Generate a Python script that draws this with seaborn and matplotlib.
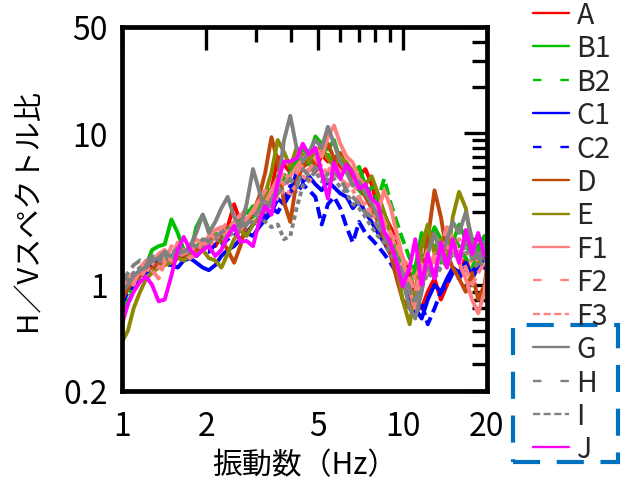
import matplotlib
matplotlib.use("Agg")
import numpy as np
import pandas as pd
import matplotlib.pyplot as plt
import seaborn as sns
from matplotlib.lines import Line2D
from matplotlib.patches import Rectangle
from matplotlib.ticker import FixedLocator, FixedFormatter, NullFormatter

# ---------------- data ----------------
freq = [1.00, 1.05, 1.10, 1.16, 1.22, 1.28, 1.35, 1.42, 1.50, 1.58,
        1.66, 1.75, 1.84, 1.94, 2.04, 2.15, 2.26, 2.38, 2.51, 2.64,
        2.78, 2.93, 3.08, 3.24, 3.41, 3.59, 3.78, 3.98, 4.19, 4.41,
        4.64, 4.89, 5.15, 5.42, 5.70, 6.00, 6.32, 6.65, 7.00, 7.37,
        7.76, 8.17, 8.60, 9.05, 9.53, 10.0, 10.6, 11.1, 11.7, 12.3,
        13.0, 13.7, 14.4, 15.1, 15.9, 16.8, 17.7, 18.6, 19.6, 20.0]

A = [0.80, 0.95, 1.10, 1.20, 1.25, 1.35, 1.30, 1.45, 1.50, 1.55, 1.50, 1.60, 1.75, 1.70, 1.85, 1.80, 2.10, 2.40, 3.40, 2.60,
     2.50, 2.90, 3.20, 3.10, 4.20, 7.00, 6.20, 5.50, 6.80, 6.00, 6.40, 5.60, 7.20, 6.50, 6.80, 5.80, 5.60, 4.80, 5.20, 5.80,
     4.60, 3.20, 2.90, 2.40, 2.00, 1.50, 1.20, 0.85, 0.70, 0.90, 1.10, 0.80, 1.00, 1.30, 1.20, 1.50, 1.10, 1.40, 1.70, 1.60]
B1 = [0.60, 0.75, 0.95, 1.15, 1.35, 1.70, 1.80, 1.85, 2.70, 2.20, 1.70, 1.60, 2.40, 2.90, 2.30, 2.10, 2.00, 2.20, 2.50, 2.60,
      3.10, 2.80, 3.50, 3.30, 4.00, 5.20, 4.60, 5.50, 6.50, 8.00, 7.00, 9.50, 8.50, 7.80, 9.00, 6.50, 6.20, 5.40, 6.00, 4.50,
      3.60, 2.70, 3.00, 2.20, 1.60, 1.40, 1.00, 1.30, 2.20, 1.80, 2.40, 2.00, 1.60, 1.90, 2.50, 2.00, 1.50, 1.80, 2.10, 1.90]
B2 = [0.70, 0.85, 1.00, 1.20, 1.30, 1.40, 1.55, 1.45, 1.60, 1.70, 1.55, 1.80, 1.95, 1.75, 2.00, 2.20, 1.90, 2.30, 2.60, 2.40,
      2.90, 3.30, 3.00, 3.80, 4.50, 4.00, 5.20, 6.00, 5.40, 7.00, 6.20, 7.50, 6.80, 7.20, 6.00, 5.50, 5.80, 4.60, 4.20, 3.80,
      4.40, 3.60, 5.00, 3.50, 2.60, 2.00, 1.50, 1.20, 1.60, 2.30, 1.90, 1.40, 1.70, 2.10, 1.80, 1.50, 1.30, 1.60, 1.90, 1.70]
C1 = [0.85, 0.95, 1.10, 1.25, 1.20, 1.35, 1.50, 1.40, 1.35, 1.30, 1.45, 1.50, 1.40, 1.30, 1.25, 1.35, 1.55, 1.70, 1.80, 2.00,
      2.20, 2.10, 2.40, 2.70, 3.00, 3.70, 3.40, 4.00, 5.50, 4.80, 5.20, 4.60, 4.20, 4.80, 4.40, 4.00, 3.80, 3.20, 3.60, 3.00,
      2.60, 2.20, 1.90, 1.60, 1.30, 1.10, 0.90, 0.70, 0.60, 0.80, 1.00, 0.90, 1.10, 1.30, 1.20, 1.40, 1.10, 1.30, 1.50, 1.40]
C2 = [0.75, 0.90, 1.00, 1.10, 1.25, 1.20, 1.35, 1.30, 1.40, 1.55, 1.45, 1.60, 1.55, 1.70, 1.65, 1.85, 1.80, 2.00, 2.10, 2.30,
      2.20, 2.50, 2.70, 2.90, 3.20, 3.00, 3.60, 4.50, 4.00, 4.60, 4.20, 3.80, 2.50, 3.40, 3.80, 3.20, 2.40, 1.90, 2.60, 2.20,
      2.00, 1.80, 1.60, 1.40, 1.20, 1.00, 0.80, 0.65, 0.75, 0.55, 0.70, 0.90, 1.00, 1.20, 1.10, 1.30, 1.20, 1.40, 1.30, 1.25]
D = [0.80, 0.95, 1.05, 1.15, 1.25, 1.30, 1.40, 1.35, 1.50, 1.60, 1.55, 1.70, 1.65, 1.80, 1.90, 2.10, 2.00, 1.70, 1.40, 1.80,
     2.60, 3.00, 3.80, 5.50, 9.40, 6.50, 3.50, 2.60, 4.80, 6.00, 7.00, 6.20, 7.50, 8.50, 6.80, 7.40, 6.00, 5.00, 4.60, 3.80,
     3.20, 2.60, 2.00, 1.60, 1.10, 0.80, 0.70, 0.90, 1.20, 2.00, 4.20, 2.80, 1.60, 1.30, 1.10, 0.90, 1.20, 0.80, 1.00, 1.30]
E = [0.42, 0.50, 0.70, 0.90, 1.10, 1.20, 1.30, 1.35, 1.40, 1.50, 1.45, 1.55, 1.60, 1.70, 1.50, 1.45, 1.30, 1.60, 2.00, 2.30,
     2.10, 2.50, 2.80, 4.00, 5.50, 9.00, 7.50, 6.00, 8.00, 7.20, 6.50, 7.60, 8.20, 6.80, 6.00, 7.00, 6.40, 5.60, 5.00, 4.60,
     5.20, 4.00, 3.00, 2.20, 1.40, 0.80, 0.55, 0.90, 1.80, 2.50, 1.60, 2.00, 1.40, 2.80, 4.10, 3.20, 1.80, 1.40, 1.60, 1.50]
F1 = [1.05, 1.10, 1.00, 1.30, 1.45, 1.40, 1.60, 1.70, 1.50, 1.90, 1.60, 1.80, 2.00, 1.85, 2.10, 2.30, 2.40, 2.20, 2.60, 2.90,
      2.70, 3.10, 3.60, 3.40, 4.20, 5.00, 4.60, 5.20, 6.00, 6.80, 7.20, 8.00, 7.00, 9.50, 11.2, 8.50, 7.00, 6.40, 5.00, 4.50,
      3.60, 3.00, 4.20, 3.30, 2.20, 1.50, 0.90, 0.70, 1.00, 1.40, 1.20, 1.60, 1.30, 1.80, 1.40, 1.10, 0.80, 0.65, 0.90, 1.20]
F2 = [0.90, 1.05, 1.20, 1.10, 1.30, 1.25, 1.10, 1.40, 1.80, 1.60, 1.70, 1.50, 1.60, 1.90, 2.20, 2.00, 2.30, 2.60, 2.40, 2.80,
      3.20, 3.00, 3.60, 4.20, 3.80, 4.60, 5.60, 4.80, 5.40, 6.20, 5.60, 6.80, 6.00, 5.40, 6.20, 5.60, 4.40, 5.00, 3.80, 3.20,
      2.80, 3.40, 2.60, 2.20, 1.90, 1.40, 1.10, 0.90, 1.30, 1.70, 1.40, 1.80, 2.40, 2.00, 1.60, 1.30, 1.00, 1.20, 1.40, 1.30]
F3 = [1.00, 1.15, 1.05, 1.25, 1.20, 1.40, 1.30, 1.50, 1.45, 1.65, 1.55, 1.75, 1.70, 1.90, 1.80, 2.00, 2.20, 2.10, 2.40, 2.30,
      2.70, 2.60, 3.00, 3.40, 3.20, 3.80, 4.20, 4.00, 4.60, 5.20, 4.80, 5.60, 5.20, 6.00, 5.40, 5.00, 4.60, 4.20, 3.60, 3.40,
      3.00, 2.60, 2.40, 2.00, 1.80, 1.50, 1.30, 1.10, 1.40, 1.20, 1.60, 1.50, 1.80, 1.60, 2.00, 1.70, 1.40, 1.50, 1.60, 1.45]
G = [0.90, 1.00, 1.15, 1.25, 1.30, 1.45, 1.50, 1.60, 1.55, 1.70, 1.65, 1.80, 2.20, 2.90, 2.20, 2.60, 3.20, 3.80, 2.80, 2.40,
     3.40, 5.80, 4.20, 3.00, 3.60, 4.40, 9.00, 13.0, 8.00, 6.50, 7.50, 9.00, 8.00, 11.0, 8.50, 6.50, 5.50, 4.50, 4.80, 4.00,
     3.40, 2.80, 2.20, 1.80, 1.50, 1.10, 0.70, 0.60, 0.90, 1.60, 2.20, 1.50, 2.00, 2.60, 2.20, 3.00, 2.00, 1.50, 1.80, 2.00]
H = [1.05, 1.20, 1.35, 1.45, 1.40, 1.55, 1.50, 1.65, 1.60, 1.75, 1.70, 1.85, 1.80, 2.00, 1.95, 2.10, 2.20, 2.40, 2.30, 2.60,
     2.50, 2.80, 3.10, 3.50, 3.30, 4.00, 4.50, 5.00, 4.40, 5.80, 5.20, 6.00, 5.40, 4.80, 5.60, 5.00, 4.20, 3.80, 3.40, 3.00,
     2.80, 2.40, 2.10, 1.80, 1.50, 1.20, 0.95, 0.80, 1.00, 1.30, 1.10, 1.50, 1.30, 1.70, 1.50, 1.90, 1.60, 1.40, 1.60, 1.50]
I = [0.95, 1.10, 1.20, 1.30, 1.35, 1.45, 1.40, 1.55, 1.50, 1.60, 1.65, 1.70, 1.80, 1.75, 1.90, 2.00, 1.95, 2.10, 2.20, 2.30,
     2.50, 2.60, 2.80, 2.60, 2.40, 2.50, 2.00, 2.10, 3.20, 4.50, 5.00, 5.60, 4.80, 5.40, 5.00, 4.40, 4.00, 3.40, 3.20, 2.80,
     2.40, 2.10, 1.90, 1.60, 1.40, 1.10, 0.90, 0.75, 0.95, 1.20, 1.10, 1.30, 1.40, 1.60, 1.50, 1.70, 1.50, 1.30, 1.50, 1.40]
J = [0.55, 0.75, 0.90, 1.05, 1.13, 1.00, 0.78, 0.80, 1.15, 1.70, 2.07, 1.70, 1.55, 1.70, 1.80, 1.55, 1.70, 2.10, 2.44, 1.92,
     1.95, 1.80, 2.60, 3.30, 2.90, 4.80, 6.50, 6.50, 6.80, 8.50, 7.20, 8.00, 5.50, 3.70, 6.40, 5.00, 6.20, 5.40, 4.30, 4.60,
     3.70, 3.40, 2.25, 1.90, 1.40, 0.98, 1.30, 2.00, 1.00, 1.60, 1.10, 1.90, 1.30, 2.00, 1.40, 2.30, 1.60, 2.20, 1.55, 1.60]

series_names = ["A", "B1", "B2", "C1", "C2", "D", "E", "F1", "F2", "F3", "G", "H", "I", "J"]
series_values = [A, B1, B2, C1, C2, D, E, F1, F2, F3, G, H, I, J]
series_colors = ["#FF0000", "#00C000", "#00C000", "#0000FF", "#0000FF", "#C0480A", "#8C8800",
                 "#FF8080", "#FF8080", "#FF8080", "#808080", "#808080", "#808080", "#FF00FF"]
series_styles = ["solid", "solid", "dashed", "solid", "dashed", "solid", "solid",
                 "solid", "dashed", "dotted", "solid", "dashed", "dotted", "solid"]

x_ticks = [1, 2, 5, 10, 20]
x_ticklabels = ["1", "2", "5", "10", "20"]
y_ticks = [0.2, 1, 10, 50]
y_ticklabels = ["0.2", "1", "10", "50"]

# ---------------- style ----------------
sns.set_theme(style="white")
plt.rcParams['font.family'] = ['Noto Sans CJK JP', 'DejaVu Sans']

W, Hh = 621, 481
fig = plt.figure(figsize=(W / 100, Hh / 100), dpi=100)
ax = fig.add_axes([122 / W, 1 - 392 / Hh, 365 / W, 364 / Hh])

plot_dash = {"solid": "-", "dashed": (0, (3.0, 1.4)), "dotted": (0, (1.2, 0.9))}
legend_dash = {"solid": "-", "dashed": (0, (3.6, 8.0)), "dotted": (0, (3.0, 1.5))}

df = pd.concat([pd.DataFrame({"freq": freq, "hv": v, "name": n})
                for n, v in zip(series_names, series_values)], ignore_index=True)

for n, c, s in zip(series_names, series_colors, series_styles):
    sub = df[df["name"] == n]
    sns.lineplot(data=sub, x="freq", y="hv", color=c, linewidth=2.8,
                 linestyle=plot_dash[s], estimator=None, sort=False,
                 legend=False, ax=ax)

ax.set_xscale("log")
ax.set_yscale("log")
ax.set_xlim(1, 20)
ax.set_ylim(0.2, 50)

ax.xaxis.set_major_locator(FixedLocator(x_ticks))
ax.xaxis.set_major_formatter(FixedFormatter(x_ticklabels))
ax.xaxis.set_minor_locator(FixedLocator([3, 4, 6, 7, 8, 9]))
ax.xaxis.set_minor_formatter(NullFormatter())
ax.yaxis.set_major_locator(FixedLocator(y_ticks))
ax.yaxis.set_major_formatter(FixedFormatter(y_ticklabels))
ax.yaxis.set_minor_locator(FixedLocator([0.3, 0.4, 0.5, 0.6, 0.7, 0.8, 0.9,
                                         2, 3, 4, 5, 6, 7, 8, 9, 20, 30, 40]))
ax.yaxis.set_minor_formatter(NullFormatter())

ax.tick_params(which="both", direction="in", top=True, right=True,
               width=2.4, color="black", labelsize=23, labelcolor="black")
ax.tick_params(which="major", length=16.5)
ax.tick_params(which="minor", length=10.5)
ax.tick_params(axis="x", which="major", pad=14)
ax.tick_params(axis="y", which="major", pad=10)

for sp in ax.spines.values():
    sp.set_linewidth(3.4)
    sp.set_color("black")
    sp.set_visible(True)

ax.set_xlabel("振動数（Hz）", fontsize=21.5, color="black", labelpad=0)
ax.set_ylabel("H／Vスペクトル比", fontsize=21, color="black")
ax.yaxis.set_label_coords(-0.215, 0.5)
ax.xaxis.set_label_coords(0.5, -0.16)

handles = [Line2D([], [], color=c, lw=1.7, linestyle=legend_dash[s])
           for c, s in zip(series_colors, series_styles)]
fig.legend(handles, series_names, loc="upper left",
           bbox_to_anchor=(533 / W, 1 - 1 / Hh), frameon=False,
           fontsize=20.5, handlelength=1.25, handletextpad=0.28,
           labelspacing=0.12, borderpad=0, borderaxespad=0)

fig.add_artist(Rectangle((513 / W, 1 - 463 / Hh), (618 - 513) / W, (463 - 326) / Hh,
                         transform=fig.transFigure, fill=False,
                         edgecolor="#0070C0", linewidth=3,
                         linestyle=(0, (6.5, 4)), clip_on=False))

fig.savefig("out.png", dpi=100)
